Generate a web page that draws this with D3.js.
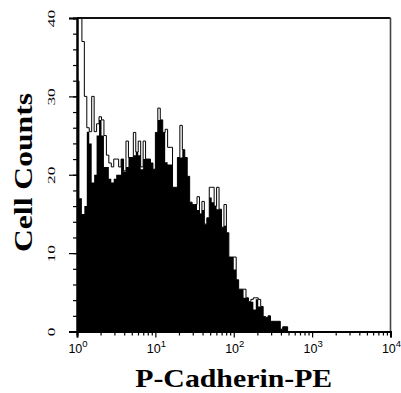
<!DOCTYPE html>
<html><head><meta charset="utf-8">
<script src="https://cdn.jsdelivr.net/npm/d3@7"></script>
<style>body{margin:0;background:#fff}svg{display:block}</style>
</head><body>
<script>
// ---- data (128 log-spaced channels over 10^0 .. 10^4) ----
const fillCounts = [
 32,17,15,16,25.5,24,19,20,25,27, 25,21,21,19.5,19,19.5,20,20,22,20.4,
 21,22.2,22.2,22.5,22.9,22.5,20.7,22,22,22, 21.5,20.7,25.4,27,27,25.4,21.6,21.3,21.3,18.4,
 18.4,22.2,22.2,23.2,22.2,19.8,16.5,16.2,16.2,15.5, 15,15.5,13.7,14.5,17.1,16.5,16,15.6,15.6,13.3,
 13.5,12.6,9.5,9.5,7.9,6.6,5.4,5.4,4.3,4.3, 3.8,3.8,2.8,4.1,3.2,3.2,1.9,1.8,2,1.3,
 1.3,1.3,1.3,0.3,0.6,0.6,0,0,0,0, 0,0,0,0,0,0,0,0,0,0,
 0,0,0,0,0,0,0,0,0,0, 0,0,0,0,0,0,0,0,0,0,
 0,0,0,0,0,0,0,0
];
const outlineCounts = [
 40,40,37,30,26,25.5,30,25.5,26.5,27.4, 27,25,22.5,21.5,21,22,22,21,22,20.5,
 24.3,22.2,22.2,25.4,22.9,24.3,21,24.3,22,22, 21.5,20.7,25.4,28.5,27,25.4,25.8,23.5,23.5,18.4,
 18.4,22.2,26.3,23.2,22.2,19.8,16.5,16.2,16.2,17.2, 15,16.6,13.7,14.5,18.4,18.4,16,18.4,15.6,13.3,
 16.2,12.6,9.5,9.5,9.5,6.6,5.4,5.4,5.4,4.3, 3.8,4.1,4.3,4.3,4.1,3.2,1.9,1.8,2,1.3,
 1.3,1.3,1.3,0.3,0.6,0.6,0,0,0,0, 0,0,0,0,0,0,0,0,0,0,
 0,0,0,0,0,0,0,0,0,0, 0,0,0,0,0,0,0,0,0,0,
 0,0,0,0,0,0,0,0
];
const xDecades = [1, 10, 100, 1000, 10000];
const xExponents = ["0", "1", "2", "3", "4"];
const yMajorTicks = [0, 10, 20, 30, 40];
const yMinorTicks = [0,2,4,6,8,10,12,14,16,18,20,22,24,26,28,30,32,34,36,38,40];
const xTitle = "P-Cadherin-PE";
const yTitle = "Cell Counts";

// ---- layout ----
const W = 401, H = 393;
const L = 77, R = 390.5, T = 18, B = 331.5;

const svg = d3.select("body").append("svg").attr("width", W).attr("height", H);
const x = d3.scaleLog().domain([1, 10000]).range([L, R]);
const y = d3.scaleLinear().domain([0, 40]).range([B, T]);

const nBins = fillCounts.length;
const edge = i => Math.pow(10, i * 4 / nBins);
function pts(arr) {
  const p = arr.map((v, i) => [edge(i), v]);
  p.push([edge(nBins), arr[nBins - 1]]);
  return p;
}

svg.append("clipPath").attr("id", "clip")
  .append("rect").attr("x", L).attr("y", T).attr("width", R - L).attr("height", B - T);

const g = svg.append("g").attr("clip-path", "url(#clip)");
g.append("path")
  .attr("d", d3.area().curve(d3.curveStepAfter)
    .x(d => x(d[0])).y0(y(0)).y1(d => y(d[1]))(pts(fillCounts)))
  .attr("fill", "#000");
g.append("path")
  .attr("d", d3.line().curve(d3.curveStepAfter)
    .x(d => x(d[0])).y(d => y(d[1]))(pts(outlineCounts)))
  .attr("fill", "none").attr("stroke", "#000").attr("stroke-width", 1);

// ---- frame ----
svg.append("line").attr("x1", L).attr("x2", R).attr("y1", T).attr("y2", T)
  .attr("stroke", "#111").attr("stroke-width", 2);
svg.append("line").attr("x1", R).attr("x2", R).attr("y1", T).attr("y2", B)
  .attr("stroke", "#444").attr("stroke-width", 1.6);

// ---- y axis ----
const yMinor = svg.append("g").attr("transform", `translate(${L},0)`)
  .call(d3.axisLeft(y).tickValues(yMinorTicks).tickSize(4).tickFormat(""));
const yMajor = svg.append("g").attr("transform", `translate(${L},0)`)
  .call(d3.axisLeft(y).tickValues(yMajorTicks).tickSize(8).tickFormat(d3.format("d")));
[yMinor, yMajor].forEach(a => {
  a.select(".domain").attr("stroke", "#000").attr("stroke-width", 2);
  a.selectAll(".tick line").attr("stroke", "#000").attr("stroke-width", 1.2);
});
yMajor.selectAll(".tick text")
  .attr("transform", "rotate(-90) scale(1.65,1)")
  .attr("x", 0).attr("y", -22).attr("dy", 0)
  .attr("text-anchor", "middle")
  .attr("font-family", "Liberation Serif, Times New Roman, serif")
  .attr("font-size", 10.5).attr("fill", "#000");

// ---- x axis ----
const minorX = [];
for (let d = 0; d < 4; d++) for (let k = 2; k <= 9; k++) minorX.push(k * Math.pow(10, d));
const xMinor = svg.append("g").attr("transform", `translate(0,${B})`)
  .call(d3.axisBottom(x).tickValues(minorX).tickSize(4).tickFormat(""));
const xMajor = svg.append("g").attr("transform", `translate(0,${B})`)
  .call(d3.axisBottom(x).tickValues(xDecades).tickSize(6).tickFormat(""));
[xMinor, xMajor].forEach(a => {
  a.select(".domain").attr("stroke", "#000").attr("stroke-width", 2);
  a.selectAll(".tick line").attr("stroke", "#000").attr("stroke-width", 1.2);
});
xDecades.forEach((d, i) => {
  const t = svg.append("text")
    .attr("x", x(d) + 1).attr("y", 353)
    .attr("text-anchor", "middle")
    .attr("font-family", "Liberation Sans, Arial, sans-serif")
    .attr("font-size", 12.5).attr("fill", "#000");
  t.append("tspan").text("10");
  t.append("tspan").attr("dy", -6).attr("font-size", 9.5).text(xExponents[i]);
});

// ---- titles ----
svg.append("text")
  .attr("x", (L + R) / 2).attr("y", 387)
  .attr("text-anchor", "middle")
  .attr("font-family", "Liberation Serif, Times New Roman, serif")
  .attr("font-weight", "bold").attr("font-size", 26)
  .attr("textLength", 197).attr("lengthAdjust", "spacingAndGlyphs")
  .text(xTitle);
svg.append("text")
  .attr("transform", "translate(32,172.5) rotate(-90)")
  .attr("text-anchor", "middle")
  .attr("font-family", "Liberation Serif, Times New Roman, serif")
  .attr("font-weight", "bold").attr("font-size", 25)
  .attr("textLength", 159).attr("lengthAdjust", "spacingAndGlyphs")
  .text(yTitle);
</script>
</body></html>
